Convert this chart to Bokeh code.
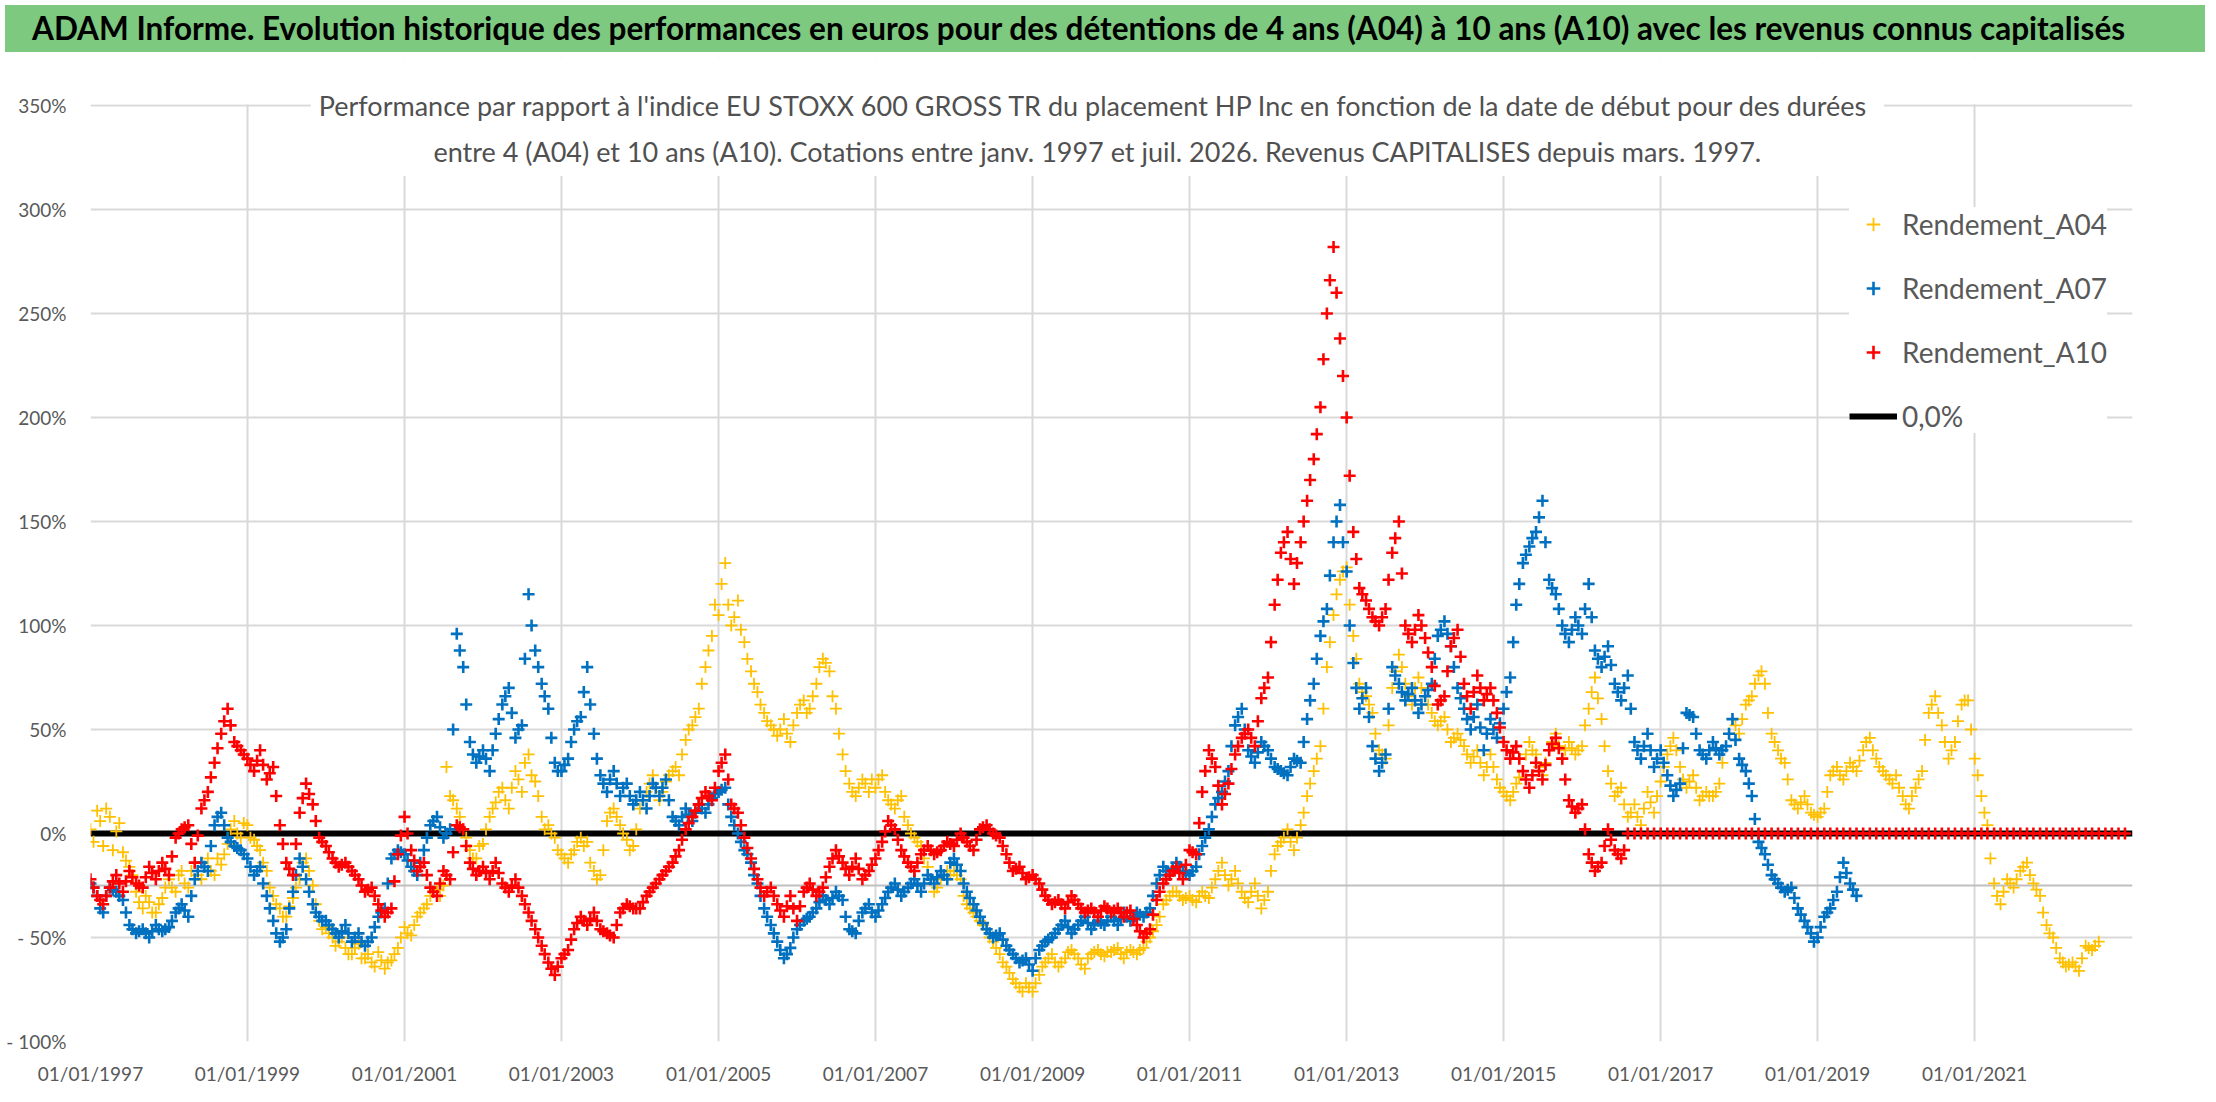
import pandas as pd
from bokeh.plotting import figure
from bokeh.layouts import column
from bokeh.models import (Div, Range1d, FixedTicker, DatetimeTickFormatter,
                          Span, Label, Legend, LegendItem, BoxAnnotation)
from bokeh.embed import file_html
from bokeh.resources import INLINE

TITLE = ("ADAM Informe. Evolution historique des performances en euros pour des "
         "détentions de 4 ans (A04) à 10 ans (A10) avec les revenus connus capitalisés")
SUBTITLE = ("Performance par rapport à l'indice EU STOXX 600 GROSS TR  du placement HP Inc "
            "en fonction de la date de début pour des durées\n"
            "entre 4 (A04) et 10 ans (A10). Cotations entre janv. 1997 et juil. 2026. "
            "Revenus CAPITALISES depuis mars. 1997.")

# values in %, one per month starting January 1997
a04_values = [
    2, 11, -6, 8, 1, -9, -16, -28, -36, -33, -38, -31,          # 1997
    -22, -28, -18, -26, -14, -22, -12, -20, -15, -5, 6, -2,     # 1998
    4, -3, -8, -18, -30, -36, -40, -31, -22, -12, -25, -42,     # 1999
    -45, -50, -52, -55, -58, -53, -60, -62, -57, -65, -61, -55, # 2000
    -45, -49, -40, -36, -30, -27, -25, 18, 12, 2, -8, -12,      # 2001
    -5, 8, 15, 22, 12, 30, 20, 38, 25, 8, 4, -2,                # 2002
    -10, -14, -8, -2, -4, -18, -20, 6, 12, 4, -3, -6,           # 2003
    12, 20, 28, 16, 25, 30, 28, 45, 52, 60, 80, 95,             # 2004
    105, 130, 100, 112, 92, 78, 68, 58, 52, 47, 55, 44,         # 2005
    58, 64, 60, 72, 84, 78, 60, 38, 24, 18, 26, 20,             # 2006
    22, 28, 16, 12, 18, 4, -2, -6, -16, -28, -22, -18,          # 2007
    -18, -22, -34, -38, -42, -46, -52, -58, -64, -70, -74, -72, # 2008
    -76, -68, -62, -58, -64, -60, -56, -60, -65, -58, -56, -59, # 2009
    -57, -55, -60, -56, -58, -55, -50, -44, -34, -30, -28, -32, # 2010
    -30, -33, -28, -31, -22, -14, -25, -18, -28, -33, -24, -36, # 2011
    -28, -10, -4, 2, -8, 4, 18, 30, 42, 80, 105, 122,           # 2012
    128, 95, 72, 66, 58, 40, 36, 70, 86, 72, 62, 75,            # 2013
    66, 58, 52, 56, 44, 48, 42, 34, 40, 28, 38, 26,             # 2014
    20, 16, 24, 30, 44, 38, 28, 40, 48, 36, 44, 38,             # 2015
    42, 60, 75, 55, 30, 18, 22, 8, 14, 4, 20, 10,               # 2016
    25, 38, 46, 32, 22, 28, 16, 20, 18, 24, 42, 55,             # 2017
    48, 62, 66, 76, 72, 48, 40, 34, 16, 12, 18, 10,             # 2018
    8, 12, 28, 32, 26, 34, 30, 40, 46, 36, 30, 26,              # 2019
    28, 18, 12, 22, 30, 58, 66, 52, 36, 44, 62, 64,             # 2020
    36, 18, 4, -24, -34, -22, -26, -18, -14, -24, -30, -44,     # 2021
    -50, -60, -64, -62, -66, -54, -56, -52,                     # 2022
]
# values around the middle of each month (spread of the daily quotes)
a04_mid = [
    -4, 6, 12, -8, 5, -13, -20, -33, -30, -38, -34, -26,
    -26, -20, -24, -18, -20, -16, -18, -12, -10, 2, 0, 5,
    -2, -6, -14, -26, -34, -40, -35, -26, -14, -18, -34, -46,
    -48, -54, -50, -58, -55, -60, -58, -64, -61, -62, -58, -50,
    -48, -44, -38, -34, -28, -30, 32, 16, 8, -2, -12, -6,
    2, 12, 20, 16, 22, 26, 34, 28, 18, 2, 0, -8,
    -12, -10, -4, -6, -14, -22, -8, 10, 8, 0, -8, 2,
    16, 24, 22, 20, 28, 32, 38, 50, 56, 72, 88, 110,
    120, 110, 104, 98, 84, 72, 62, 54, 50, 50, 48, 52,
    62, 58, 66, 80, 82, 66, 48, 30, 20, 22, 24, 26,
    26, 20, 14, 16, 8, 0, -4, -12, -22, -26, -20, -20,
    -20, -30, -36, -40, -44, -50, -55, -62, -67, -72, -76, -74,
    -72, -64, -60, -62, -62, -57, -58, -63, -60, -57, -58, -57,
    -56, -58, -57, -57, -56, -52, -47, -40, -32, -28, -30, -31,
    -32, -30, -30, -26, -18, -20, -22, -24, -31, -28, -30, -32,
    -18, -6, -2, -4, -2, 10, 24, 36, 60, 92, 115, 126,
    110, 84, 68, 62, 48, 38, 52, 78, 80, 66, 70, 70,
    62, 54, 54, 50, 46, 45, 38, 37, 34, 32, 32, 22,
    18, 20, 27, 38, 40, 32, 34, 44, 42, 40, 41, 40,
    52, 68, 65, 42, 24, 20, 14, 10, 8, 12, 15, 18,
    32, 42, 40, 26, 25, 22, 18, 18, 20, 34, 48, 52,
    55, 64, 72, 78, 58, 44, 36, 26, 14, 15, 14, 9,
    10, 20, 30, 28, 30, 32, 35, 44, 40, 32, 28, 24,
    22, 14, 18, 26, 45, 62, 58, 44, 40, 54, 64, 50,
    28, 10, -12, -30, -28, -24, -22, -16, -20, -27, -38, -48,
    -55, -62, -63, -64, -60, -55, -54,
]

a07_values = [
    -24, -30, -38, -26, -28, -32, -44, -48, -46, -50, -44, -47, # 1997
    -45, -38, -34, -40, -22, -14, -18, 4, 10, -2, -6, -8,       # 1998
    -12, -20, -16, -30, -42, -52, -46, -28, -12, -22, -34, -40, # 1999
    -42, -46, -50, -44, -52, -48, -54, -50, -40, -36, -12, -8,  # 2000
    -10, -16, -20, -8, 4, 8, -2, 2, 96, 80, 44, 34,             # 2001
    40, 30, 48, 62, 70, 46, 52, 115, 88, 72, 60, 34,            # 2002
    30, 36, 50, 56, 80, 48, 28, 20, 30, 18, 24, 14,             # 2003
    20, 12, 24, 18, 26, 8, 4, 12, 6, 14, 10, 17,                # 2004
    20, 22, 8, 0, -8, -14, -24, -36, -44, -52, -60, -55,        # 2005
    -46, -42, -40, -36, -30, -34, -28, -32, -46, -48, -38, -34, # 2006
    -40, -34, -28, -24, -30, -26, -22, -28, -20, -24, -18, -22, # 2007
    -12, -18, -28, -34, -40, -46, -50, -48, -54, -58, -62, -60, # 2008
    -66, -56, -52, -50, -46, -42, -48, -44, -40, -46, -42, -44, # 2009
    -40, -44, -38, -42, -38, -40, -36, -24, -16, -20, -14, -18, # 2010
    -20, -16, -6, 2, 14, 20, 30, 52, 60, 40, 34, 44,            # 2011
    40, 32, 30, 28, 36, 34, 55, 72, 95, 108, 140, 158,          # 2012
    126, 82, 60, 70, 42, 30, 38, 80, 72, 64, 70, 58,            # 2013
    66, 72, 95, 102, 90, 70, 60, 50, 62, 40, 55, 46,            # 2014
    60, 75, 110, 130, 138, 145, 160, 122, 115, 100, 92, 104,    # 2015
    96, 120, 88, 80, 90, 72, 64, 76, 44, 36, 48, 32,            # 2016
    40, 28, 18, 24, 58, 56, 40, 36, 44, 38, 42, 55,             # 2017
    36, 30, 18, -4, -10, -20, -24, -28, -26, -36, -42, -48,     # 2018
    -50, -40, -36, -28, -14, -24, -30,                          # 2019
]
a07_mid = [
    -26, -36, -30, -27, -30, -38, -46, -47, -48, -47, -46, -46,
    -42, -36, -37, -30, -18, -16, -6, 8, 4, -4, -7, -10,
    -16, -18, -24, -36, -48, -50, -36, -20, -16, -28, -38, -42,
    -44, -48, -47, -48, -50, -52, -52, -45, -38, -24, -10, -9,
    -13, -18, -14, -2, 6, 3, 0, 50, 88, 62, 38, 37,
    36, 40, 55, 66, 58, 50, 84, 100, 80, 66, 46, 30,
    33, 44, 54, 68, 62, 36, 24, 26, 24, 22, 18, 16,
    16, 18, 22, 22, 16, 6, 8, 9, 10, 12, 14, 19,
    21, 14, 4, -4, -10, -20, -30, -40, -48, -56, -58, -50,
    -44, -41, -38, -33, -32, -31, -30, -40, -47, -42, -36, -38,
    -37, -31, -26, -27, -28, -24, -25, -24, -22, -21, -20, -14,
    -15, -24, -31, -37, -43, -48, -49, -51, -56, -60, -61, -63,
    -60, -54, -51, -48, -44, -45, -46, -42, -43, -44, -43, -42,
    -42, -41, -40, -40, -39, -38, -30, -20, -18, -17, -16, -19,
    -18, -10, -2, 8, 17, 25, 42, 56, 50, 37, 39, 42,
    36, 31, 29, 32, 35, 44, 64, 84, 102, 124, 150, 140,
    100, 70, 65, 56, 36, 34, 60, 76, 68, 67, 64, 62,
    69, 84, 98, 96, 80, 65, 55, 56, 51, 48, 50, 53,
    68, 92, 120, 134, 142, 152, 140, 118, 108, 96, 98, 100,
    108, 104, 84, 85, 81, 68, 70, 60, 40, 42, 40, 36,
    34, 23, 21, 41, 57, 48, 38, 40, 41, 40, 48, 45,
    33, 24, 7, -7, -15, -22, -26, -27, -31, -39, -45, -52,
    -45, -38, -32, -21, -19, -27,
]

a10_values = [
    -22, -30, -34, -26, -20, -28, -18, -24, -26, -16, -22, -14, # 1997
    -20, -2, 2, 4, -14, 12, 20, 34, 48, 60, 44, 40,             # 1998
    36, 30, 40, 26, 32, 4, -14, -20, 10, 24, 14, -2,            # 1999
    -6, -12, -16, -14, -18, -22, -28, -26, -34, -40, -36, -10,  # 2000
    8, -8, -18, -14, -26, -30, -18, -22, 4, 2, -14, -20,        # 2001
    -16, -22, -14, -24, -28, -22, -30, -38, -46, -54, -62, -68, # 2002
    -60, -56, -46, -40, -44, -38, -46, -48, -50, -38, -34, -36, # 2003
    -36, -30, -26, -22, -18, -14, -8, 2, 8, 14, 20, 16,         # 2004
    30, 38, 14, 10, -2, -12, -22, -30, -26, -34, -40, -30,      # 2005
    -42, -28, -24, -30, -26, -16, -8, -14, -20, -12, -22, -18,  # 2006
    -12, -4, 6, 2, -8, -14, -18, -10, -6, -10, -8, -4,          # 2007
    -6, 0, -4, -8, 2, 4, 0, -2, -10, -18, -16, -22,             # 2008
    -20, -24, -30, -34, -32, -36, -30, -34, -38, -36, -40, -35, # 2009
    -38, -36, -40, -37, -44, -50, -46, -32, -24, -20, -16, -22, # 2010
    -8, -10, 20, 40, 32, 14, 24, 38, 46, 50, 42, 65,            # 2011
    75, 110, 135, 145, 120, 140, 160, 180, 205, 250, 282, 238,  # 2012
    200, 145, 118, 112, 104, 100, 108, 135, 150, 100, 92, 105,  # 2013
    94, 80, 62, 66, 90, 98, 72, 60, 76, 64, 70, 58,             # 2014
    44, 36, 42, 30, 22, 34, 26, 40, 46, 36, 16, 10,             # 2015
    14, -10, -18, -14, 2, -8, -12, 0, 0, 0, 0, 0,               # 2016
    0, 0, 0, 0, 0, 0, 0, 0, 0, 0, 0, 0,                         # 2017
    0, 0, 0, 0, 0, 0, 0, 0, 0, 0, 0, 0,                         # 2018
    0, 0, 0, 0, 0, 0, 0, 0, 0, 0, 0, 0,                         # 2019
    0, 0, 0, 0, 0, 0, 0, 0, 0, 0, 0, 0,                         # 2020
    0, 0, 0, 0, 0, 0, 0, 0, 0, 0, 0, 0,                         # 2021
    0, 0, 0, 0, 0, 0, 0, 0, 0, 0, 0, 0,                         # 2022
]
a10_mid = [
    -26, -32, -30, -23, -24, -23, -21, -25, -21, -19, -18, -17,
    -11, 0, 3, -5, -1, 16, 27, 41, 54, 52, 42, 38,
    33, 35, 33, 29, 18, -5, -17, -5, 17, 19, 6, -4,
    -9, -14, -15, -16, -20, -25, -27, -30, -37, -38, -23, -1,
    0, -13, -16, -20, -28, -24, -20, -9, 3, -6, -17, -18,
    -19, -18, -19, -26, -25, -26, -34, -42, -50, -58, -65, -64,
    -58, -51, -43, -42, -41, -42, -47, -49, -44, -36, -35, -36,
    -33, -28, -24, -20, -16, -11, -3, 5, 11, 17, 18, 22,
    34, 26, 12, 4, -7, -17, -26, -28, -30, -37, -35, -36,
    -35, -26, -27, -28, -21, -12, -11, -17, -16, -17, -20, -15,
    -8, 1, 4, -3, -11, -16, -14, -8, -8, -9, -6, -5,
    -3, -2, -6, -3, 3, 2, -1, -6, -14, -17, -19, -21,
    -22, -27, -32, -33, -34, -33, -32, -36, -37, -38, -37, -36,
    -37, -38, -38, -41, -47, -48, -39, -28, -22, -18, -19, -15,
    -9, 5, 30, 36, 23, 19, 31, 42, 48, 46, 54, 70,
    92, 122, 140, 132, 130, 150, 170, 192, 228, 266, 260, 220,
    172, 132, 115, 108, 102, 104, 122, 142, 125, 96, 98, 100,
    87, 71, 64, 78, 94, 85, 66, 68, 70, 67, 64, 51,
    40, 39, 36, 26, 28, 30, 33, 43, 41, 26, 13, 12,
    2, -14, -16, -6, -3, -10, -8,
]

zero_dates = ["1997-01-01", "2023-01-05"]
zero_values = [0, 0]

tick_years = [1997, 1999, 2001, 2003, 2005, 2007, 2009, 2011, 2013, 2015, 2017, 2019, 2021]
y_ticks = [-100, -50, 0, 50, 100, 150, 200, 250, 300, 350]

GREY = "#595959"
FONT = "Lato"


def month_dates(values, day=1):
    return pd.date_range("1997-01-01", periods=len(values), freq="MS") + pd.Timedelta(days=day - 1)


def ms(d):
    return pd.Timestamp(d).value / 1e6


def series_xy(values, mid):
    xs = list(month_dates(values)) + list(month_dates(mid, 15))
    return xs, list(values) + list(mid)


header = Div(
    text=('<div style="padding-left:27px;line-height:47px;font-family:Lato;'
          'font-weight:bold;font-size:31.5px;color:black;white-space:nowrap;">'
          + TITLE + '</div>'),
    width=2200, height=47,
    styles={"background-color": "#7DC97F"})

# frame reaches above 350 % so the chart title can sit on the top gridline
p = figure(width=2200, height=1039, title=None,
           x_axis_type="datetime",
           x_range=Range1d(ms(zero_dates[0]), ms(zero_dates[1])),
           y_range=Range1d(-100, 373.1),
           toolbar_location=None,
           output_backend="svg",
           min_border_left=90, min_border_right=68,
           min_border_top=0, min_border_bottom=55)
p.outline_line_color = None
p.background_fill_color = "white"
p.border_fill_color = "white"

tick_ms = [ms(f"{y}-01-01") for y in tick_years]
p.xaxis.ticker = FixedTicker(ticks=tick_ms)
p.xgrid.ticker = FixedTicker(ticks=tick_ms)
p.xaxis.formatter = DatetimeTickFormatter(days="%d/%m/%Y", months="%d/%m/%Y",
                                          years="%d/%m/%Y")
p.yaxis.ticker = FixedTicker(ticks=y_ticks)
p.ygrid.ticker = FixedTicker(ticks=y_ticks)
p.yaxis.major_label_overrides = {
    t: (f"{t}%" if t >= 0 else f"- {-t}%") for t in y_ticks}

for ax in (p.xaxis, p.yaxis):
    ax.axis_line_color = None
    ax.major_tick_line_color = None
    ax.minor_tick_line_color = None
    ax.major_label_text_font = FONT
    ax.major_label_text_font_size = "19px"
    ax.major_label_text_color = GREY
p.yaxis.major_label_standoff = 18
p.xaxis.major_label_standoff = 14

p.grid.grid_line_color = "#D9D9D9"
p.grid.grid_line_width = 2

# hide the vertical gridlines above the 350 % line
p.add_layout(BoxAnnotation(bottom=350.6, fill_color="white", fill_alpha=1.0,
                           line_color=None, level="underlay"))
p.add_layout(Span(location=-25, dimension="width", line_color="#BFBFBF",
                  line_width=2, level="underlay"))

zero = p.line(x=pd.to_datetime(zero_dates), y=zero_values,
              line_color="black", line_width=6)
x04, y04 = series_xy(a04_values, a04_mid)
r04 = p.scatter(x=x04, y=y04, marker="cross", size=12,
                line_color="#FFC000", line_width=1.8)
x07, y07 = series_xy(a07_values, a07_mid)
r07 = p.scatter(x=x07, y=y07, marker="cross", size=12,
                line_color="#0070C0", line_width=2.6)
x10, y10 = series_xy(a10_values, a10_mid)
r10 = p.scatter(x=x10, y=y10, marker="cross", size=12,
                line_color="#FF0000", line_width=2.6)

p.add_layout(Label(x=ms("2009-10-29"), y=339, text=SUBTITLE,
                   text_align="center", text_baseline="middle",
                   text_font=FONT, text_font_size="27px", text_color="#505050",
                   text_line_height=1.4,
                   background_fill_color="white", background_fill_alpha=1.0,
                   padding=8))

legend = Legend(items=[LegendItem(label="Rendement_A04", renderers=[r04]),
                       LegendItem(label="Rendement_A07", renderers=[r07]),
                       LegendItem(label="Rendement_A10", renderers=[r10]),
                       LegendItem(label="0,0%", renderers=[zero])],
                location=(1759, 608))
legend.label_text_font = FONT
legend.label_text_font_size = "28px"
legend.label_text_color = GREY
legend.glyph_width = 48
legend.glyph_height = 34
legend.label_height = 34
legend.spacing = 30
legend.padding = 15
legend.margin = 0
legend.label_standoff = 5
legend.border_line_color = None
legend.background_fill_color = "white"
legend.background_fill_alpha = 1.0
p.add_layout(legend)

layout = column(header, p)
open("out.html", "w").write(file_html(layout, INLINE))
